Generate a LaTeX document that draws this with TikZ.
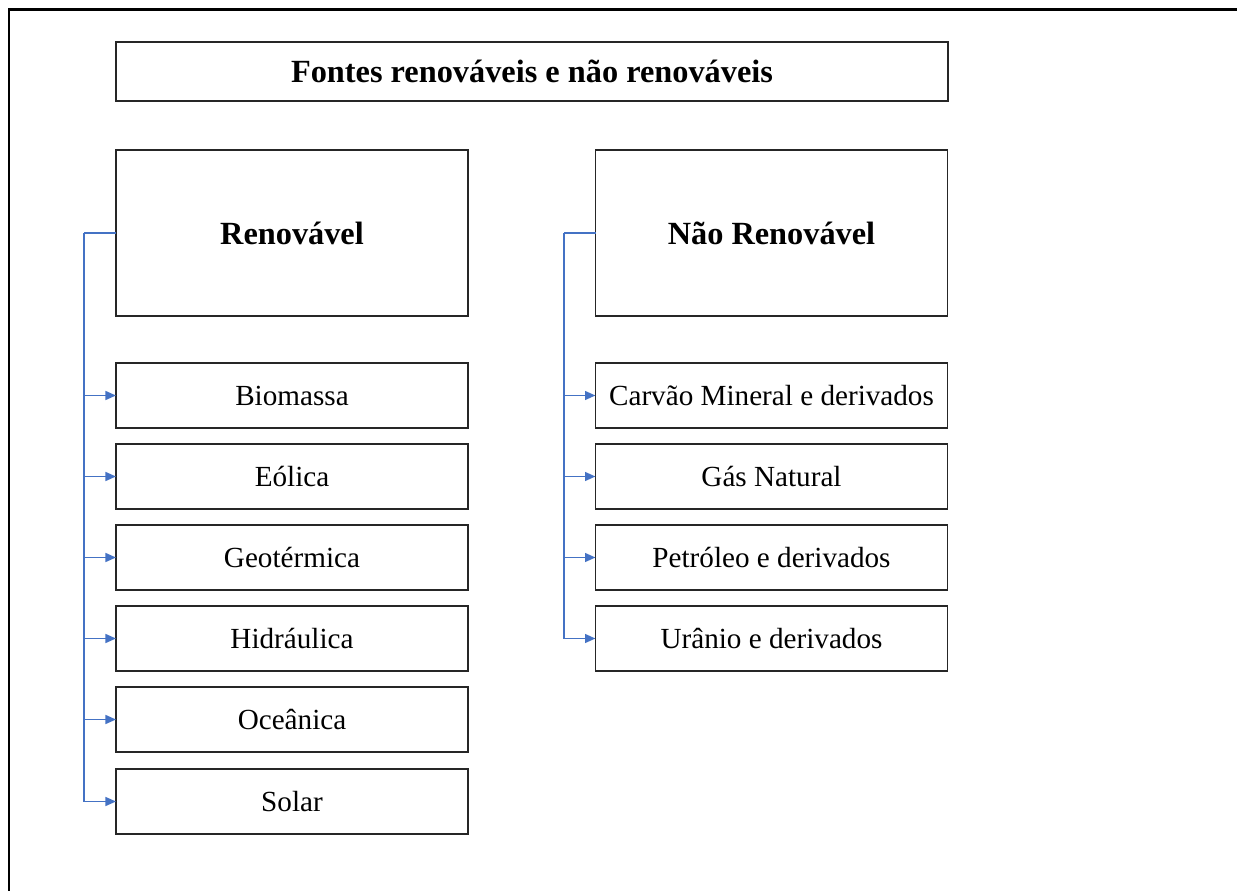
\documentclass[tikz,border=0pt]{standalone}
\usepackage{fontspec}
\setmainfont{Liberation Serif}
\usetikzlibrary{arrows.meta}
\definecolor{linkblue}{RGB}{68,114,196}
\tikzset{
  box/.style={draw=black!85, line width=0.9pt, rectangle, inner sep=0pt, outer sep=0pt,
    minimum width=7.04cm, minimum height=1.3cm, font=\fontsize{16.6}{19}\selectfont},
  headbox/.style={box, minimum height=3.32cm, font=\bfseries\fontsize{18.4}{22}\selectfont},
  titlebox/.style={box, minimum width=16.64cm, minimum height=1.18cm, font=\bfseries\fontsize{18.4}{22}\selectfont},
  link/.style={draw=linkblue, line width=1.1pt},
  linkarrow/.style={link, -{Triangle[length=6pt,width=5pt]}}
}
\begin{document}
\begin{tikzpicture}[x=0.02cm, y=-0.02cm]
\useasboundingbox (0,0) rectangle (1237,891);
\draw[line width=1.7pt] (9,891) -- (9,10) -- (1237,10);
\node[titlebox] (title) at (532,71.5) {Fontes renováveis e não renováveis};
\node[headbox] (ren) at (292,233) {Renovável};
\node[headbox] (nren) at (771.5,233) {Não Renovável};
\node[box] (bio) at (292,395.5) {Biomassa};
\node[box] (eol) at (292,476.5) {Eólica};
\node[box] (geo) at (292,557.5) {Geotérmica};
\node[box] (hid) at (292,638.5) {Hidráulica};
\node[box] (oce) at (292,719.5) {Oceânica};
\node[box] (sol) at (292,801.5) {Solar};
\node[box] (car) at (771.5,395.5) {Carvão Mineral e derivados};
\node[box] (gas) at (771.5,476.5) {Gás Natural};
\node[box] (pet) at (771.5,557.5) {Petróleo e derivados};
\node[box] (ura) at (771.5,638.5) {Urânio e derivados};
\coordinate (rj) at (84,233);
\coordinate (nj) at (564,233);
\path[link] (ren.west) -- (rj);
\path[linkarrow] (rj) |- (bio.west);
\path[linkarrow] (rj) |- (eol.west);
\path[linkarrow] (rj) |- (geo.west);
\path[linkarrow] (rj) |- (hid.west);
\path[linkarrow] (rj) |- (oce.west);
\path[linkarrow] (rj) |- (sol.west);
\path[link] (nren.west) -- (nj);
\path[linkarrow] (nj) |- (car.west);
\path[linkarrow] (nj) |- (gas.west);
\path[linkarrow] (nj) |- (pet.west);
\path[linkarrow] (nj) |- (ura.west);
\end{tikzpicture}
\end{document}
